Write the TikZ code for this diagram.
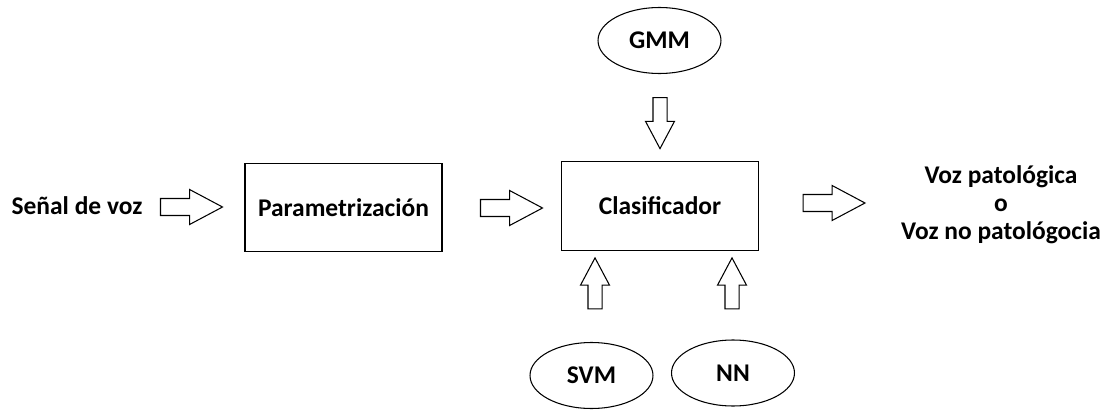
\documentclass[tikz,border=0pt]{standalone}
\usepackage{fontspec}
\setmainfont{Carlito}
\usetikzlibrary{shapes.geometric,shapes.arrows}

\begin{document}
\begin{tikzpicture}[x=0.02cm, y=0.02cm, line width=0.6pt,
    font=\fontsize{14.5}{16}\selectfont\bfseries,
    bloque/.style={draw, minimum width=3.94cm, minimum height=1.77cm},
    metodo/.style={draw, ellipse, minimum width=2.46cm, minimum height=1.32cm},
    flecha/.style={draw, single arrow, inner sep=0.16cm,
      single arrow head extend=0.18cm, single arrow tip angle=56,
      minimum height=1.24cm},
    flechav/.style={flecha, inner sep=0.13cm,
      single arrow head extend=0.15cm, minimum height=1.02cm}]
  \useasboundingbox (0,0) rectangle (1110,410);

  % bloques
  \node (senal) at (77,204) {Señal de voz};
  \node[bloque] (param) at (343.5,202.5) {Parametrización};
  \node[bloque] (clasif) at (660,204) {Clasificador};
  \node[align=center] (salida) at (1001,205) {Voz patológica\\o\\Voz no patológocia};

  % clasificadores
  \node[metodo] (gmm) at (659.5,369.5) {GMM};
  \node[metodo] (svm) at (591.5,34.5) {SVM};
  \node[metodo] (nn) at (733,37) {NN};

  % flechas
  \node[flecha] (f1) at (183.5,203) {};
  \node[flecha] (f2) at (503.5,202) {};
  \node[flecha] (f3) at (826,207) {};
  \node[flechav, shape border rotate=270] (fgmm) at (660,293.5) {};
  \node[flechav, shape border rotate=90] (fsvm) at (595,120) {};
  \node[flechav, shape border rotate=90] (fnn) at (732,120) {};
\end{tikzpicture}
\end{document}
